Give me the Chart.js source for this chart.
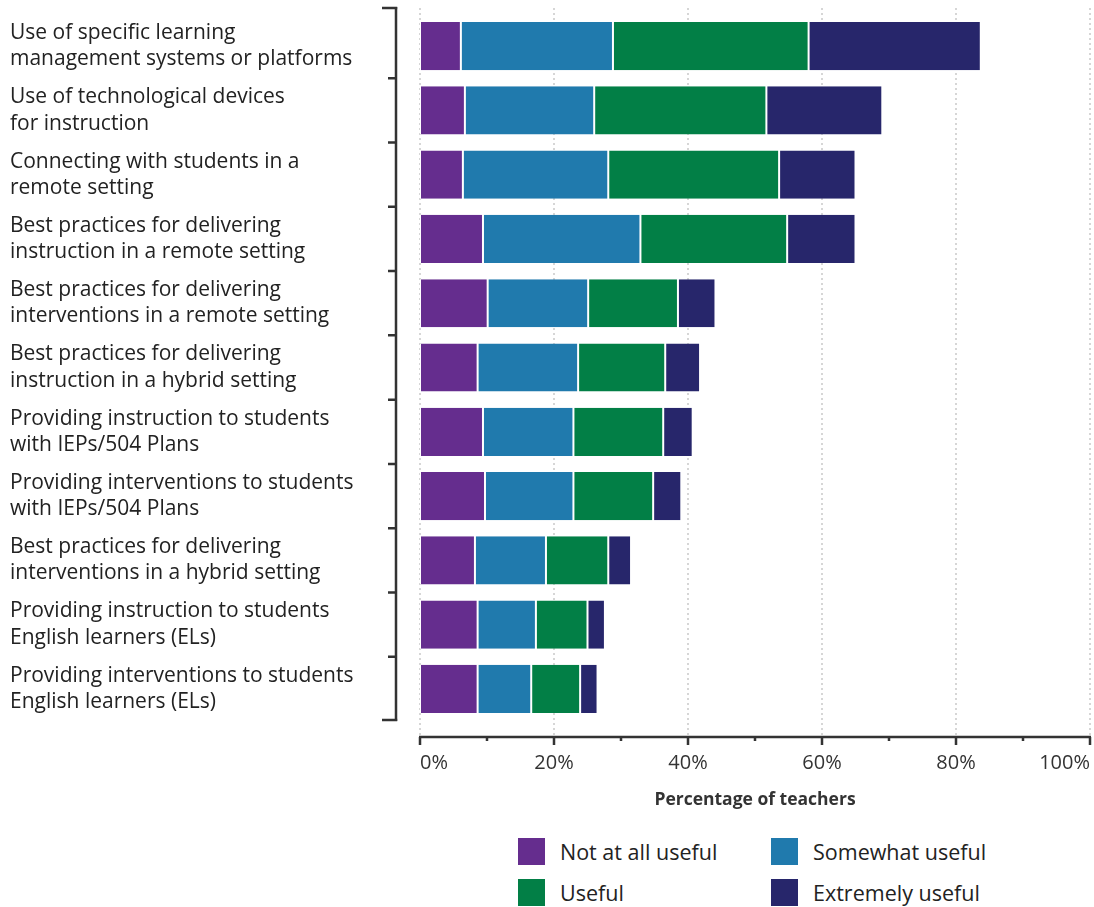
<!DOCTYPE html>
<html>
<head>
<meta charset="utf-8">
<script src="https://cdn.jsdelivr.net/npm/chart.js@4/dist/chart.umd.min.js"></script>
<style>
  body { margin: 0; background: #fff; }
  #wrap { position: relative; width: 1094px; height: 907px; }
  #chartBox { position: absolute; left: 0; top: 0; width: 1094px; height: 830px; }
  #legend {
    position: absolute; left: 518px; top: 838px;
    display: grid; grid-template-columns: 253px 253px; row-gap: 14px;
    font-family: "Open Sans", sans-serif; font-size: 21.5px; color: #222;
  }
  .item { display: flex; align-items: center; height: 27px; }
  .swatch { width: 27px; height: 27px; margin-right: 15px; flex: none; }
</style>
</head>
<body>
<div id="wrap">
  <div id="chartBox"><canvas id="chart"></canvas></div>
  <div id="legend"></div>
</div>
<script>
// categories (top to bottom)
const categories = [
    ['Use of specific learning', 'management systems or platforms'],
    ['Use of technological devices', 'for instruction'],
    ['Connecting with students in a', 'remote setting'],
    ['Best practices for delivering', 'instruction in a remote setting'],
    ['Best practices for delivering', 'interventions in a remote setting'],
    ['Best practices for delivering', 'instruction in a hybrid setting'],
    ['Providing instruction to students', 'with IEPs/504 Plans'],
    ['Providing interventions to students', 'with IEPs/504 Plans'],
    ['Best practices for delivering', 'interventions in a hybrid setting'],
    ['Providing instruction to students', 'English learners (ELs)'],
    ['Providing interventions to students', 'English learners (ELs)']
];

// percentage of teachers per rating
const notAtAllUseful = [6.1, 6.7, 6.4, 9.4, 10.1, 8.6, 9.4, 9.7, 8.2, 8.6, 8.6];
const somewhatUseful = [22.7, 19.3, 21.7, 23.5, 15.0, 15.0, 13.5, 13.2, 10.6, 8.7, 8.0];
const useful = [29.2, 25.7, 25.5, 21.9, 13.4, 13.0, 13.4, 11.9, 9.3, 7.7, 7.3];
const extremelyUseful = [25.7, 17.3, 11.4, 10.2, 5.6, 5.2, 4.4, 4.2, 3.4, 2.6, 2.6];

const xTicks = [0, 20, 40, 60, 80, 100];
const xMinorTicks = [10, 30, 50, 70, 90];

const seriesNames = ['Not at all useful', 'Somewhat useful', 'Useful', 'Extremely useful'];
const seriesColors = ['#652d8e', '#207aad', '#027f46', '#27266b'];
const seriesData = [notAtAllUseful, somewhatUseful, useful, extremelyUseful];

const FONT = '"Open Sans", sans-serif';

// dotted grid lines + bracket-style y axis + bottom axis line
const axisDecor = {
    id: 'axisDecor',
    beforeDatasetsDraw(chart) {
        const ctx = chart.ctx;
        const area = chart.chartArea;
        const x = chart.scales.x;
        ctx.save();
        ctx.strokeStyle = '#c9c9c9';
        ctx.lineWidth = 1.5;
        ctx.setLineDash([2, 3]);
        xTicks.forEach(v => {
            const px = x.getPixelForValue(v);
            ctx.beginPath();
            ctx.moveTo(px, area.top - 6);
            ctx.lineTo(px, area.bottom + 16);
            ctx.stroke();
        });
        ctx.restore();
    },
    afterDraw(chart) {
        const ctx = chart.ctx;
        const area = chart.chartArea;
        const x = chart.scales.x;
        const y = chart.scales.y;
        ctx.save();
        ctx.strokeStyle = '#333';
        ctx.lineWidth = 2.5;

        // left bracket axis
        const ax = area.left - 24;
        const top = y.getPixelForValue(-0.5) - 7;
        const bottom = y.getPixelForValue(categories.length - 0.5);
        ctx.beginPath();
        ctx.moveTo(ax, top);
        ctx.lineTo(ax, bottom);
        ctx.stroke();
        ctx.beginPath();
        ctx.moveTo(ax - 14, top + 1);
        ctx.lineTo(ax + 1.2, top + 1);
        ctx.moveTo(ax - 14, bottom - 1);
        ctx.lineTo(ax + 1.2, bottom - 1);
        for (let i = 1; i < categories.length; i++) {
            const py = y.getPixelForValue(i - 0.5);
            ctx.moveTo(ax - 8, py);
            ctx.lineTo(ax, py);
        }
        ctx.stroke();

        // bottom axis
        const by = area.bottom + 16;
        ctx.beginPath();
        ctx.moveTo(x.getPixelForValue(0) - 1, by);
        ctx.lineTo(x.getPixelForValue(100) + 1, by);
        xTicks.forEach(v => {
            const px = x.getPixelForValue(v);
            ctx.moveTo(px, by);
            ctx.lineTo(px, by + 8);
        });
        xMinorTicks.forEach(v => {
            const px = x.getPixelForValue(v);
            ctx.moveTo(px, by);
            ctx.lineTo(px, by + 4);
        });
        ctx.stroke();
        ctx.restore();
    }
};

const chart = new Chart(document.getElementById('chart'), {
    type: 'bar',
    data: {
        labels: categories,
        datasets: seriesNames.map((name, i) => ({
            label: name,
            data: seriesData[i],
            backgroundColor: seriesColors[i],
            borderColor: '#ffffff',
            borderWidth: { left: 1, right: 1, top: 0, bottom: 0 },
            borderSkipped: false,
            barPercentage: 0.75,
            categoryPercentage: 1
        }))
    },
    options: {
        indexAxis: 'y',
        responsive: true,
        maintainAspectRatio: false,
        animation: false,
        layout: { padding: { left: 10, right: 4, top: 14, bottom: 15 } },
        plugins: {
            legend: { display: false },
            tooltip: { enabled: false }
        },
        scales: {
            x: {
                type: 'linear',
                stacked: true,
                min: 0,
                max: 100,
                grid: { display: false, drawTicks: false },
                border: { display: false },
                afterBuildTicks: scale => {
                    scale.ticks = xTicks.map(v => ({ value: v }));
                },
                afterFit: scale => {
                    scale.paddingLeft = 0;
                    scale.paddingRight = 0;
                },
                ticks: {
                    align: 'inner',
                    maxRotation: 0,
                    padding: 30,
                    color: '#333',
                    font: { family: FONT, size: 20 },
                    callback: v => v + '%'
                },
                title: {
                    display: true,
                    text: 'Percentage of teachers',
                    color: '#333',
                    font: { family: FONT, size: 17.5, weight: 'bold' },
                    padding: { top: -15, bottom: 4 }
                }
            },
            y: {
                stacked: true,
                grid: { display: false },
                border: { display: false },
                afterFit: scale => {
                    scale.width = 410;
                    scale.paddingTop = 0;
                    scale.paddingBottom = 0;
                },
                ticks: {
                    autoSkip: false,
                    crossAlign: 'far',
                    color: '#222',
                    font: { family: FONT, size: 21, lineHeight: 1.25 }
                }
            }
        }
    },
    plugins: [axisDecor]
});

// HTML legend in a 2x2 grid, built from the datasets
const legendEl = document.getElementById('legend');
chart.data.datasets.forEach(ds => {
    const item = document.createElement('div');
    item.className = 'item';
    const sw = document.createElement('span');
    sw.className = 'swatch';
    sw.style.background = ds.backgroundColor;
    const txt = document.createElement('span');
    txt.textContent = ds.label;
    item.appendChild(sw);
    item.appendChild(txt);
    legendEl.appendChild(item);
});
</script>
</body>
</html>
